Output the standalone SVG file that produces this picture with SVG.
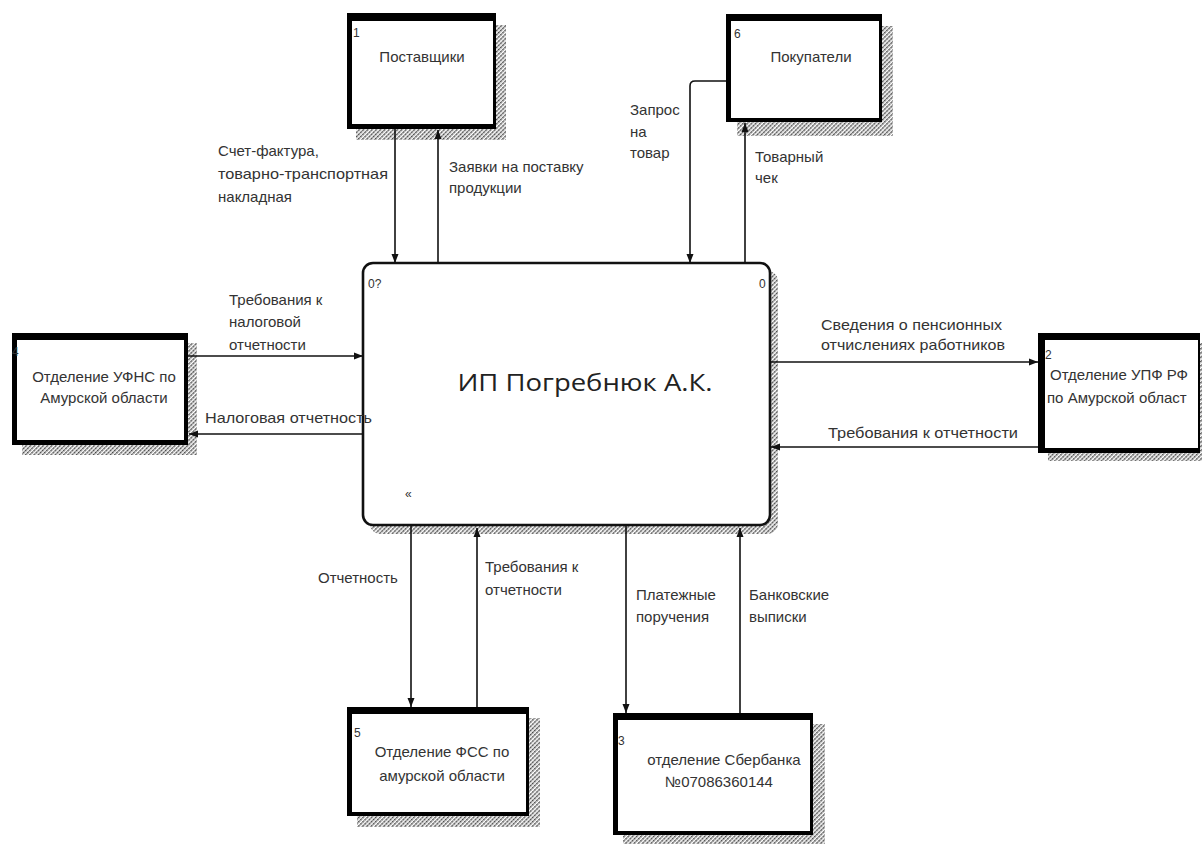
<svg xmlns="http://www.w3.org/2000/svg" width="1202" height="844" viewBox="0 0 1202 844">
  <style>
    .lbl { font-family: "Liberation Sans", Arial, sans-serif; font-size: 15px; fill: #333; }
    .num { font-family: "Liberation Sans", Arial, sans-serif; font-size: 12px; fill: #333; }
    .name { font-family: "Liberation Sans", Arial, sans-serif; font-size: 15px; fill: #333; text-anchor: middle; }
    .title { font-family: "Open Sans", "Noto Sans", sans-serif; font-size: 24px; fill: #222; text-anchor: middle; }
    .frame { fill: #000; }
    .face { fill: #fff; }
    .shadow { fill: url(#hatch); }
    .flow { fill: none; stroke: #111; stroke-width: 1.6; }
  </style>
  <defs>
    <pattern id="hatch" width="3" height="3" patternUnits="userSpaceOnUse" patternTransform="rotate(45)">
      <rect width="3" height="3" fill="#fff"/>
      <line x1="0.75" y1="0" x2="0.75" y2="3" stroke="#444" stroke-width="1.5" stroke-dasharray="1.6 0.6"/>
    </pattern>
    <marker id="arrow" markerUnits="userSpaceOnUse" markerWidth="9" markerHeight="8" refX="9" refY="4" orient="auto">
      <path d="M0,0.5 L9,4 L0,7.5 z" fill="#111"/>
    </marker>
  </defs>

  <rect width="1202" height="844" fill="#fff"/>

  <!-- central activity -->
  <g id="node-0">
    <rect class="shadow" x="370" y="271" width="408" height="263" rx="10"/>
    <rect x="363" y="263" width="407" height="262" rx="10" fill="#fff" stroke="#111" stroke-width="2.6"/>
    <text class="num" x="368" y="288">0?</text>
    <text class="num" x="759" y="288">0</text>
    <text class="title" x="585" y="391" textLength="255" lengthAdjust="spacingAndGlyphs">ИП Погребнюк А.К.</text>
    <text class="num" x="405" y="498" font-size="10">«</text>
  </g>

  <!-- external entities -->
  <g id="node-1">
    <rect class="shadow" x="356" y="25" width="150" height="115"/>
    <rect class="frame" x="347" y="13" width="149" height="116"/>
    <rect class="face" x="352" y="21" width="141" height="103"/>
    <text class="num" x="353" y="37">1</text>
    <text class="name" x="422" y="62">Поставщики</text>
  </g>

  <g id="node-6">
    <rect class="shadow" x="737" y="26" width="156" height="110"/>
    <rect class="frame" x="726" y="14" width="156" height="108"/>
    <rect class="face" x="731" y="21" width="148" height="97"/>
    <text class="num" x="734" y="38">6</text>
    <text class="name" x="811" y="62">Покупатели</text>
  </g>

  <g id="node-4">
    <rect class="shadow" x="22" y="343" width="175" height="112"/>
    <rect class="frame" x="12" y="333" width="176" height="112"/>
    <rect class="face" x="17" y="340" width="167" height="100"/>
    <text class="num" x="12" y="356">4</text>
    <text class="name" x="104" y="382">Отделение УФНС по</text>
    <text class="name" x="104" y="403">Амурской области</text>
  </g>

  <g id="node-2">
    <rect class="shadow" x="1048" y="343" width="160" height="118"/>
    <rect class="frame" x="1038" y="333" width="162" height="120"/>
    <rect class="face" x="1045" y="340" width="153" height="108"/>
    <text class="num" x="1045" y="359">2</text>
    <text class="lbl" x="1050" y="380">Отделение УПФ РФ</text>
    <text class="lbl" x="1047" y="403">по Амурской област</text>
  </g>

  <g id="node-5">
    <rect class="shadow" x="357" y="718" width="183" height="109"/>
    <rect class="frame" x="347" y="707" width="182" height="109"/>
    <rect class="face" x="352" y="714" width="174" height="98"/>
    <text class="num" x="354" y="737">5</text>
    <text class="name" x="442" y="757">Отделение ФСС по</text>
    <text class="name" x="442" y="781">амурской области</text>
  </g>

  <g id="node-3">
    <rect class="shadow" x="623" y="724" width="202" height="124"/>
    <rect class="frame" x="613" y="713" width="200" height="122"/>
    <rect class="face" x="618" y="720" width="192" height="111"/>
    <text class="num" x="618" y="745">3</text>
    <text class="name" x="724" y="765">отделение Сбербанка</text>
    <text class="name" x="719" y="787">№07086360144</text>
  </g>

  <!-- flows -->
  <g id="connectors">
    <path class="flow" d="M395,129 V263" marker-end="url(#arrow)"/>
    <path class="flow" d="M438,263 V130" marker-end="url(#arrow)"/>
    <path class="flow" d="M726,81 H695 Q690,81 690,86 V263" marker-end="url(#arrow)"/>
    <path class="flow" d="M745,263 V123" marker-end="url(#arrow)"/>
    <path class="flow" d="M188,356 H363" marker-end="url(#arrow)"/>
    <path class="flow" d="M363,434 H189" marker-end="url(#arrow)"/>
    <path class="flow" d="M771,362 H1038" marker-end="url(#arrow)"/>
    <path class="flow" d="M1038,447 H771" marker-end="url(#arrow)"/>
    <path class="flow" d="M411,526 V707" marker-end="url(#arrow)"/>
    <path class="flow" d="M477,707 V528" marker-end="url(#arrow)"/>
    <path class="flow" d="M626,526 V713" marker-end="url(#arrow)"/>
    <path class="flow" d="M740,713 V528" marker-end="url(#arrow)"/>
  </g>

  <!-- flow labels -->
  <g id="labels">
    <text class="lbl" x="218" y="156">Счет-фактура,</text>
    <text class="lbl" x="218" y="179" textLength="170" lengthAdjust="spacingAndGlyphs">товарно-транспортная</text>
    <text class="lbl" x="218" y="202">накладная</text>
    <text class="lbl" x="449" y="172">Заявки на поставку</text>
    <text class="lbl" x="449" y="193">продукции</text>
    <text class="lbl" x="630" y="115">Запрос</text>
    <text class="lbl" x="630" y="137">на</text>
    <text class="lbl" x="630" y="158">товар</text>
    <text class="lbl" x="755" y="162">Товарный</text>
    <text class="lbl" x="755" y="183">чек</text>
    <text class="lbl" x="229" y="305">Требования к</text>
    <text class="lbl" x="229" y="327">налоговой</text>
    <text class="lbl" x="229" y="350">отчетности</text>
    <text class="lbl" x="205" y="423" textLength="167" lengthAdjust="spacingAndGlyphs">Налоговая отчетность</text>
    <text class="lbl" x="821" y="330" textLength="181" lengthAdjust="spacingAndGlyphs">Сведения о пенсионных</text>
    <text class="lbl" x="821" y="350" textLength="184" lengthAdjust="spacingAndGlyphs">отчислениях работников</text>
    <text class="lbl" x="828" y="438" textLength="190" lengthAdjust="spacingAndGlyphs">Требования к отчетности</text>
    <text class="lbl" x="318" y="583">Отчетность</text>
    <text class="lbl" x="485" y="572">Требования к</text>
    <text class="lbl" x="485" y="595">отчетности</text>
    <text class="lbl" x="636" y="600">Платежные</text>
    <text class="lbl" x="636" y="622">поручения</text>
    <text class="lbl" x="749" y="600">Банковские</text>
    <text class="lbl" x="749" y="622">выписки</text>
  </g>
</svg>
